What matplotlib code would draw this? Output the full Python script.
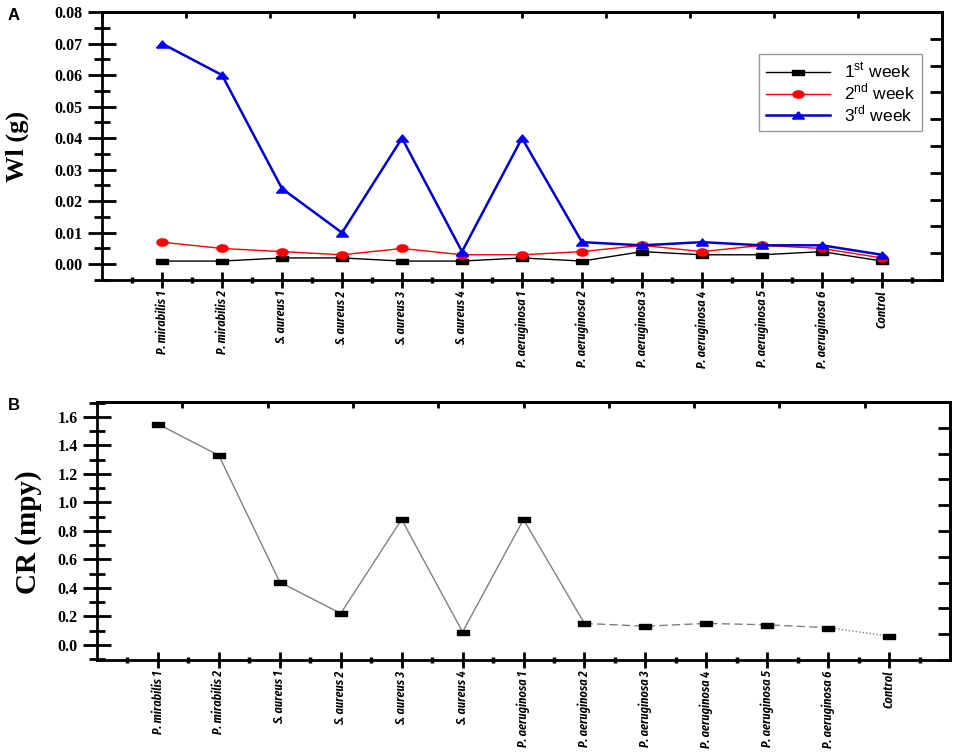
import numpy as np
import matplotlib
matplotlib.use("Agg")
import matplotlib.pyplot as plt
from matplotlib.ticker import MultipleLocator, FixedLocator, NullFormatter, FormatStrFormatter
from matplotlib import font_manager as fm

categories = ["P. mirabilis 1", "P. mirabilis 2", "S. aureus 1", "S. aureus 2",
              "S. aureus 3", "S. aureus 4", "P. aeruginosa 1", "P. aeruginosa 2",
              "P. aeruginosa 3", "P. aeruginosa 4", "P. aeruginosa 5",
              "P. aeruginosa 6", "Control"]
week1 = [0.001, 0.001, 0.002, 0.002, 0.001, 0.001, 0.002, 0.001, 0.004, 0.003, 0.003, 0.004, 0.001]
week2 = [0.007, 0.005, 0.004, 0.003, 0.005, 0.003, 0.003, 0.004, 0.006, 0.004, 0.006, 0.005, 0.002]
week3 = [0.070, 0.060, 0.024, 0.010, 0.040, 0.004, 0.040, 0.007, 0.006, 0.007, 0.006, 0.006, 0.003]
cr_mpy = [1.55, 1.33, 0.44, 0.22, 0.88, 0.09, 0.88, 0.15, 0.13, 0.15, 0.14, 0.12, 0.06]
legend_labels = ["1$^{\\rm st}$ week", "2$^{\\rm nd}$ week", "3$^{\\rm rd}$ week"]

plt.rcParams['mathtext.fontset'] = 'custom'
plt.rcParams['mathtext.rm'] = 'Liberation Sans'

# pick an installed condensed italic sans for the category labels
available = set(f.name for f in fm.fontManager.ttflist if f.style == 'italic')
narrow_choices = ['Fira Sans Extra Condensed', 'Barlow Condensed', 'Sofia Sans Extra Condensed',
                  'Roboto Condensed', 'Fira Sans Condensed', 'Archivo Narrow', 'PT Sans Narrow',
                  'Liberation Sans Narrow', 'Encode Sans Condensed', 'Asap Condensed',
                  'Saira Condensed', 'Liberation Serif']
narrow = next((n for n in narrow_choices if n in available), 'DejaVu Sans')

W, H = 957, 752
fig = plt.figure(figsize=(W / 100, H / 100), dpi=100)
renderer = fig.canvas.get_renderer()

# scale category font so the longest label is ~75 px long (as in the reference)
xfont = dict(family=[narrow, 'DejaVu Sans'], style='italic', weight='semibold', size=10)
probe = fig.text(0, 0, "P. aeruginosa 1", **xfont)
plen = probe.get_window_extent(renderer).width
probe.remove()
xfont['size'] = 10 * 76 / plen

yfont = dict(family=['Liberation Serif', 'DejaVu Serif'], weight='bold', size=11.5)

def ax_rect(l, t, r, b):
    return [l / W, 1 - b / H, (r - l) / W, (b - t) / H]

# wide marker shapes (reference image is horizontally stretched)
rect_m = [(-1, -0.45), (1, -0.45), (1, 0.45), (-1, 0.45), (-1, -0.45)]
tt = np.linspace(0, 2 * np.pi, 40)
ell_m = list(zip(np.cos(tt), 0.65 * np.sin(tt)))
tri_m = [(-1, -0.6), (1, -0.6), (0, 0.6), (-1, -0.6)]

def style_axes(ax, ylim, major, minor):
    x = np.arange(1, len(categories) + 1)
    ax.set_xlim(0, len(categories) + 1)
    ax.set_ylim(*ylim)
    ax.set_xticks(x)
    ax.set_xticklabels(categories, rotation=90, ha='center', va='top', **xfont)
    ax.xaxis.set_minor_locator(FixedLocator(np.arange(0.5, len(categories) + 1, 1.0)))
    ax.yaxis.set_major_locator(MultipleLocator(major))
    ax.yaxis.set_minor_locator(MultipleLocator(minor))
    ax.tick_params(axis='y', which='major', direction='inout', length=20, width=2.0, pad=4)
    ax.tick_params(axis='y', which='minor', direction='inout', length=11, width=2.0)
    ax.tick_params(axis='x', which='major', direction='inout', length=11, width=2.0, pad=2)
    ax.tick_params(axis='x', which='minor', direction='inout', length=4, width=2.5)
    for s in ax.spines.values():
        s.set_linewidth(2.0)
        s.set_color('black')
    top = ax.secondary_xaxis('top')
    top.set_xticks(np.linspace(0, len(categories) + 1, 11))
    top.xaxis.set_major_formatter(NullFormatter())
    top.tick_params(direction='in', length=4, width=2.0)
    top.spines['top'].set_linewidth(2.0)
    right = ax.secondary_yaxis('right')
    right.set_yticks(np.linspace(ylim[0], ylim[1], 11))
    right.yaxis.set_major_formatter(NullFormatter())
    right.tick_params(direction='in', length=9, width=2.0)
    right.spines['right'].set_linewidth(2.0)
    return x

# ---------- Panel A ----------
axA = fig.add_axes(ax_rect(102, 12, 942, 280))
x = style_axes(axA, (-0.005, 0.08), 0.01, 0.005)
axA.plot(x, week1, color='black', lw=1.0, marker=rect_m, ms=8, mfc='black', mec='black', label=legend_labels[0], zorder=3)
axA.plot(x, week2, color='red', lw=1.0, marker=ell_m, ms=8, mfc='red', mec='red', label=legend_labels[1], zorder=3)
axA.plot(x, week3, color='#0000cc', lw=1.8, marker=tri_m, ms=8.5, mfc='blue', mec='blue', label=legend_labels[2], zorder=3)
axA.yaxis.set_major_formatter(FormatStrFormatter('%.2f'))
for lab in axA.get_yticklabels():
    lab.set(**yfont)
leg = axA.legend(loc='upper right', bbox_to_anchor=((922 - 102) / 840, 1 - (54 - 12) / 268),
                 borderaxespad=0, fancybox=False, framealpha=1, edgecolor='#999999',
                 prop=dict(family='Liberation Sans', size=12.5), handlelength=3.7,
                 labelspacing=0.05, borderpad=0.4, handletextpad=0.8)
leg.get_frame().set_linewidth(1.0)

# ---------- Panel B ----------
axB = fig.add_axes(ax_rect(97, 402, 950, 660))
x = style_axes(axB, (-0.107, 1.705), 0.2, 0.1)
axB.plot(x[:8], cr_mpy[:8], color='#808080', lw=1.0, ls='-', zorder=2)
axB.plot(x[7:12], cr_mpy[7:12], color='#808080', lw=1.0, ls=(0, (6, 3)), zorder=2)
axB.plot(x[11:], cr_mpy[11:], color='#808080', lw=1.0, ls=(0, (1, 1.5)), zorder=2)
axB.plot(x, cr_mpy, ls='none', marker=rect_m, ms=8, mfc='black', mec='black', zorder=3)
axB.yaxis.set_major_formatter(FormatStrFormatter('%.1f'))
for lab in axB.get_yticklabels():
    lab.set(**yfont)

# ---------- labels ----------
fig.text(17 / W, 1 - 146 / H, "Wl (g)", rotation=90, ha='center', va='center',
         family=['Liberation Serif', 'DejaVu Serif'], weight='bold', size=19)
fig.text(29 / W, 1 - 532 / H, "CR (mpy)", rotation=90, ha='center', va='center',
         family=['Liberation Serif', 'DejaVu Serif'], weight='bold', size=21)
fig.text(14 / W, 1 - 16 / H, "A", ha='center', va='center',
         family=['Liberation Sans', 'DejaVu Sans'], weight='bold', size=12)
fig.text(14 / W, 1 - 406 / H, "B", ha='center', va='center',
         family=['Liberation Sans', 'DejaVu Sans'], weight='bold', size=12)

fig.savefig("out.png", dpi=100)
